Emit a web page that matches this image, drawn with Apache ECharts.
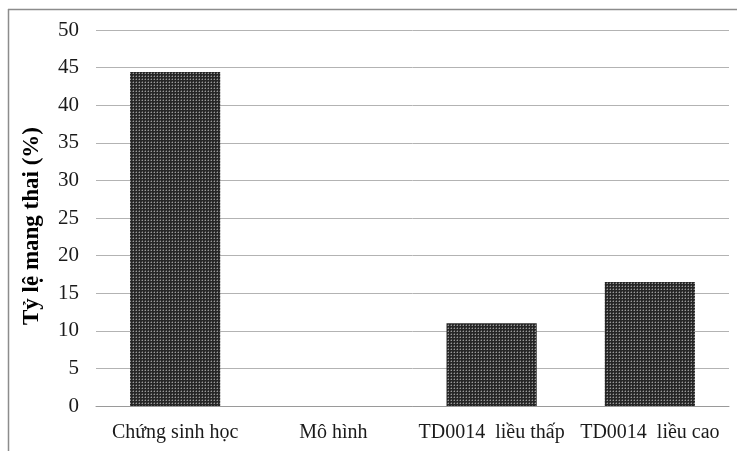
<!DOCTYPE html>
<html>
<head>
<meta charset="utf-8">
<script src="https://cdn.jsdelivr.net/npm/echarts@6/dist/echarts.min.js"></script>
<style>html,body{margin:0;padding:0;background:#fff}#c{width:737px;height:451px}</style>
</head>
<body>
<div id="c"></div>
<script>
const categories = ['Chứng sinh học', 'Mô hình', 'TD0014  liều thấp', 'TD0014  liều cao'];
const values = [44.4, 0, 11.0, 16.5];
const yTitle = 'Tỷ lệ mang thai (%)';

const pat = document.createElement('canvas');
pat.width = 3; pat.height = 3;
const g = pat.getContext('2d');
g.fillStyle = '#262626'; g.fillRect(0, 0, 3, 3);
g.fillStyle = '#9a9a9a'; g.fillRect(1, 1, 1, 1);
g.fillStyle = '#555'; g.fillRect(1, 0, 1, 1); g.fillRect(0, 1, 1, 1);

const chart = echarts.init(document.getElementById('c'), null, {renderer: 'canvas'});
chart.setOption({
  backgroundColor: '#fff',
  animation: false,
  grid: {left: 96, right: 8, top: 30, bottom: 45},
  graphic: [
    {type: 'line', shape: {x1: 8, y1: 9.5, x2: 737, y2: 9.5}, style: {stroke: '#8c8c8c', lineWidth: 1.5}},
    {type: 'line', shape: {x1: 8.5, y1: 9, x2: 8.5, y2: 451}, style: {stroke: '#8c8c8c', lineWidth: 1.5}}
  ],
  xAxis: {
    type: 'category',
    data: categories,
    axisLine: {lineStyle: {color: '#9a9a9a', width: 1}},
    axisTick: {show: false},
    axisLabel: {color: '#1a1a1a', fontFamily: 'Liberation Serif', fontSize: 20, margin: 17, interval: 0}
  },
  yAxis: {
    type: 'value',
    min: 0, max: 50, interval: 5,
    name: yTitle,
    nameLocation: 'middle',
    nameGap: 52,
    nameTextStyle: {color: '#000', fontFamily: 'Liberation Serif', fontSize: 23, fontWeight: 'bold', padding: [0, 16, 0, 0]},
    axisLine: {show: false},
    axisTick: {show: false},
    axisLabel: {color: '#1a1a1a', fontFamily: 'Liberation Serif', fontSize: 21, margin: 17},
    splitLine: {lineStyle: {color: '#b3b3b3', width: 1}}
  },
  series: [{
    type: 'bar',
    data: values,
    barWidth: '57%',
    itemStyle: {color: {image: pat, repeat: 'repeat'}}
  }]
});
</script>
</body>
</html>
